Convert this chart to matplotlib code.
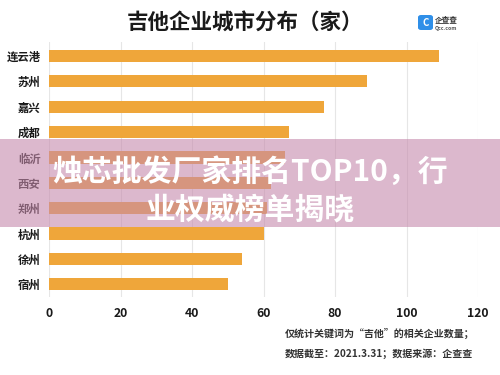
import matplotlib
matplotlib.use('Agg')
import matplotlib.pyplot as plt
from matplotlib.patches import Rectangle, FancyBboxPatch

##################
# Data
##################

cities = ['连云港', '苏州', '嘉兴', '成都', '临沂', '西安', '郑州', '杭州', '徐州', '宿州']
counts = [109, 89, 77, 67, 66, 62, 61, 60, 54, 50]
xticks = [0, 20, 40, 60, 80, 100, 120]

title = '吉他企业城市分布（家）'
note1 = '仅统计关键词为“吉他”的相关企业数量；'
note2 = '数据截至：2021.3.31；数据来源：企查查'
overlay1 = '烛芯批发厂家排名TOP10，行'
overlay2 = '业权威榜单揭晓'

##################
# Style
##################

fonts = ['Noto Sans CJK SC', 'DejaVu Sans']
plt.rcParams['font.family'] = fonts
plt.rcParams['font.weight'] = 'bold'

bar_color = '#EFA63A'
grid_color = '#E6E6E6'
text_color = '#1A1A1A'

fig = plt.figure(figsize=(5, 3.75), dpi=100, facecolor='white')
ax = fig.add_axes([0.098, 0.208, 0.858, 0.68])

##################
# Bars
##################

ax.barh(range(len(cities)), counts, height=0.48, color=bar_color, zorder=2)
ax.set_yticks(range(len(cities)))
ax.set_yticklabels(cities, fontsize=8.2, fontweight='bold', color=text_color)
ax.set_ylim(9.5, -0.55)
ax.set_xlim(0, 120)
ax.set_xticks(xticks)
ax.set_xticklabels([str(t) for t in xticks], fontsize=8.8, fontweight='bold', color=text_color)
ax.tick_params(length=0)
ax.tick_params(axis='x', pad=7)
ax.tick_params(axis='y', pad=6)
ax.grid(axis='x', color=grid_color, linewidth=0.8, zorder=0)
for s in ax.spines.values():
    s.set_visible(False)

##################
# Title, logo, notes
##################

fig.text(0.49, 0.938, title, ha='center', va='center', fontsize=15.5,
         fontweight='bold', color=text_color)

logo = FancyBboxPatch((0.838, 0.922), 0.026, 0.036, boxstyle='round,pad=0.002,rounding_size=0.006',
                      transform=fig.transFigure, facecolor='#2F8FE8', edgecolor='none')
fig.patches.append(logo)
fig.text(0.851, 0.940, 'C', ha='center', va='center', fontsize=7, color='white',
         fontweight='bold')
fig.text(0.870, 0.947, '企查查', ha='left', va='center', fontsize=5.5, color='#333333')
fig.text(0.870, 0.923, 'Qcc.com', ha='left', va='center', fontsize=3.8, color='#555555')

fig.text(0.57, 0.112, note1, ha='left', va='center', fontsize=7.2, color='#333333')
fig.text(0.57, 0.056, note2, ha='left', va='center', fontsize=7.2, color='#333333')

##################
# Overlay band
##################

band = Rectangle((0, 1 - 227 / 375), 1, 88 / 375, transform=fig.transFigure,
                 facecolor='#C68AAC', alpha=0.6, edgecolor='none', zorder=5)
fig.patches.append(band)
fig.text(0.5, 1 - 172 / 375, overlay1, ha='center', va='center', fontsize=21.5,
         fontweight='black', color='white', zorder=6)
fig.text(0.5, 1 - 210 / 375, overlay2, ha='center', va='center', fontsize=21.5,
         fontweight='black', color='white', zorder=6)

plt.savefig('out.png', dpi=100, facecolor='white')
